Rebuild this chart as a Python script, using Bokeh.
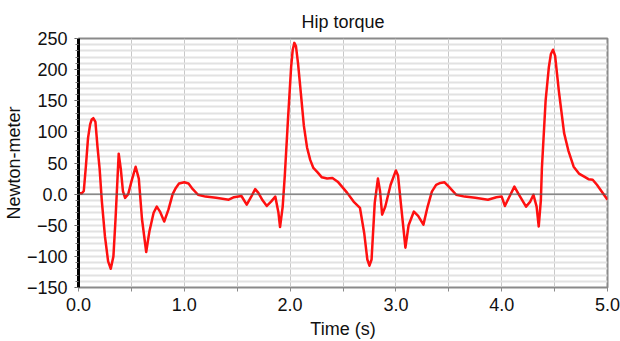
from bokeh.plotting import figure
from bokeh.models import FixedTicker, Span, Range1d
from bokeh.embed import file_html
from bokeh.resources import INLINE

# Hip torque (Newton-meter) vs time (s)
time_s = [0.00, 0.03, 0.05, 0.07, 0.09, 0.11, 0.125, 0.14, 0.16, 0.18, 0.20, 0.22, 0.25, 0.28, 0.305,
          0.33, 0.35, 0.37, 0.38, 0.40, 0.42, 0.44, 0.47, 0.50, 0.54, 0.57, 0.60, 0.64, 0.67,
          0.71, 0.74, 0.77, 0.81, 0.85, 0.89, 0.92, 0.95, 1.00, 1.04, 1.08, 1.13, 1.20, 1.30,
          1.42, 1.47, 1.54, 1.59, 1.63, 1.67, 1.70, 1.74, 1.78, 1.82, 1.86, 1.89, 1.905, 1.93,
          1.95, 1.98, 2.01, 2.025, 2.04, 2.055, 2.075, 2.10, 2.13, 2.16, 2.19, 2.22, 2.26, 2.30, 2.35, 2.40,
          2.45, 2.50, 2.54, 2.60, 2.66, 2.70, 2.73, 2.75, 2.77, 2.80, 2.83, 2.85, 2.87, 2.90,
          2.95, 3.00, 3.02, 3.05, 3.09, 3.12, 3.17, 3.21, 3.26, 3.30, 3.34, 3.38, 3.42, 3.46,
          3.50, 3.57, 3.65, 3.75, 3.87, 3.95, 4.00, 4.03, 4.07, 4.12, 4.16, 4.23, 4.27, 4.30,
          4.33, 4.35, 4.37, 4.38, 4.415, 4.445, 4.465, 4.485, 4.505, 4.54, 4.59, 4.63, 4.68, 4.73, 4.78,
          4.82, 4.86, 4.90, 4.95, 5.00]
torque_nm = [2, 1, 5, 45, 90, 112, 120, 122, 116, 75, 40, -10, -68, -108, -120,
             -100, -40, 30, 65, 40, 5, -6, 0, 20, 44, 25, -40, -93, -60,
             -30, -20, -28, -44, -25, 0, 10, 17, 19, 17, 8, -1, -4, -6,
             -9, -5, -3, -17, -5, 8, 2, -10, -19, -12, -4, -30, -53, -20,
             30, 120, 205, 232, 243, 238, 210, 165, 110, 75, 55, 42, 35, 27, 25, 26,
             20, 10, 2, -12, -22, -62, -105, -115, -105, -14, 25, 5, -33, -20,
             15, 38, 30, -20, -86, -50, -28, -35, -49, -20, 4, 15, 18, 19,
             12, -1, -4, -6, -9, -5, -4, -19, -5, 12, 0, -20, -12, -1,
             -20, -52, -10, 42, 150, 203, 225, 232, 222, 166, 98, 70, 44, 33, 28,
             24, 23, 15, 3, -9]

x_ticks = [0.0, 0.5, 1.0, 1.5, 2.0, 2.5, 3.0, 3.5, 4.0, 4.5, 5.0]
x_tick_labels = {0.0: "0.0", 0.5: "", 1.0: "1.0", 1.5: "", 2.0: "2.0", 2.5: "",
                 3.0: "3.0", 3.5: "", 4.0: "4.0", 4.5: "", 5.0: "5.0"}
y_ticks = [-150, -100, -50, 0, 50, 100, 150, 200, 250]
y_tick_labels = {0: "0.0"}
y_minor = list(range(-150, 251, 10))
x_title = "Time (s)"
y_title = "Newton-meter"
chart_title = "Hip torque"

FONT = "Liberation Sans"

p = figure(width=620, height=341, output_backend="svg", toolbar_location=None,
           x_range=Range1d(0, 5), y_range=Range1d(-150, 250),
           min_border_left=77, min_border_right=13, min_border_top=38, min_border_bottom=53,
           title=chart_title)

p.title.align = "center"
p.title.text_font = FONT
p.title.text_font_size = "18px"
p.title.text_font_style = "normal"
p.title.text_color = "#111111"
p.title.standoff = 13

p.background_fill_color = "white"
p.border_fill_color = "white"
p.outline_line_color = "#8a8a8a"
p.outline_line_width = 2

# grids
p.xgrid.ticker = FixedTicker(ticks=x_ticks)
p.xgrid.grid_line_color = "#c8c8c8"
p.xgrid.grid_line_width = 1
p.ygrid.ticker = FixedTicker(ticks=y_minor)
p.ygrid.grid_line_color = "#e2e2e2"
p.ygrid.grid_line_width = 2

# axes
p.xaxis.ticker = FixedTicker(ticks=x_ticks)
p.xaxis.major_label_overrides = x_tick_labels
p.xaxis.axis_line_color = "#8a8a8a"
p.xaxis.major_tick_line_color = "#8a8a8a"
p.xaxis.major_tick_out = 4
p.xaxis.major_tick_in = 0
p.xaxis.minor_tick_line_color = None
p.xaxis.major_label_standoff = 6
p.xaxis.major_label_text_line_height = 1.0
p.xaxis.axis_label = x_title
p.xaxis.axis_label_standoff = 5
p.xaxis.axis_label_text_line_height = 1.0

p.yaxis.ticker = FixedTicker(ticks=y_ticks, minor_ticks=y_minor)
p.yaxis.major_label_overrides = y_tick_labels
p.yaxis.axis_line_color = "black"
p.yaxis.axis_line_width = 3
p.yaxis.major_tick_line_color = "#555555"
p.yaxis.major_tick_out = 4
p.yaxis.major_tick_in = 0
p.yaxis.minor_tick_line_color = "#777777"
p.yaxis.minor_tick_out = 3
p.yaxis.minor_tick_in = 0
p.yaxis.major_label_standoff = 7
p.yaxis.axis_label = y_title
p.yaxis.axis_label_standoff = 0
p.yaxis.axis_label_text_line_height = 1.0

for ax in (p.xaxis, p.yaxis):
    ax.major_label_text_font = FONT
    ax.major_label_text_font_size = "18px"
    ax.major_label_text_color = "#111111"
    ax.axis_label_text_font = FONT
    ax.axis_label_text_font_size = "18px"
    ax.axis_label_text_font_style = "normal"
    ax.axis_label_text_color = "#111111"

p.add_layout(Span(location=0, dimension="width", line_color="#555555", line_width=1))

p.line(time_s, torque_nm, line_color="#ff1010", line_width=2.5, line_join="round")

open("out.html", "w").write(file_html(p, INLINE))
